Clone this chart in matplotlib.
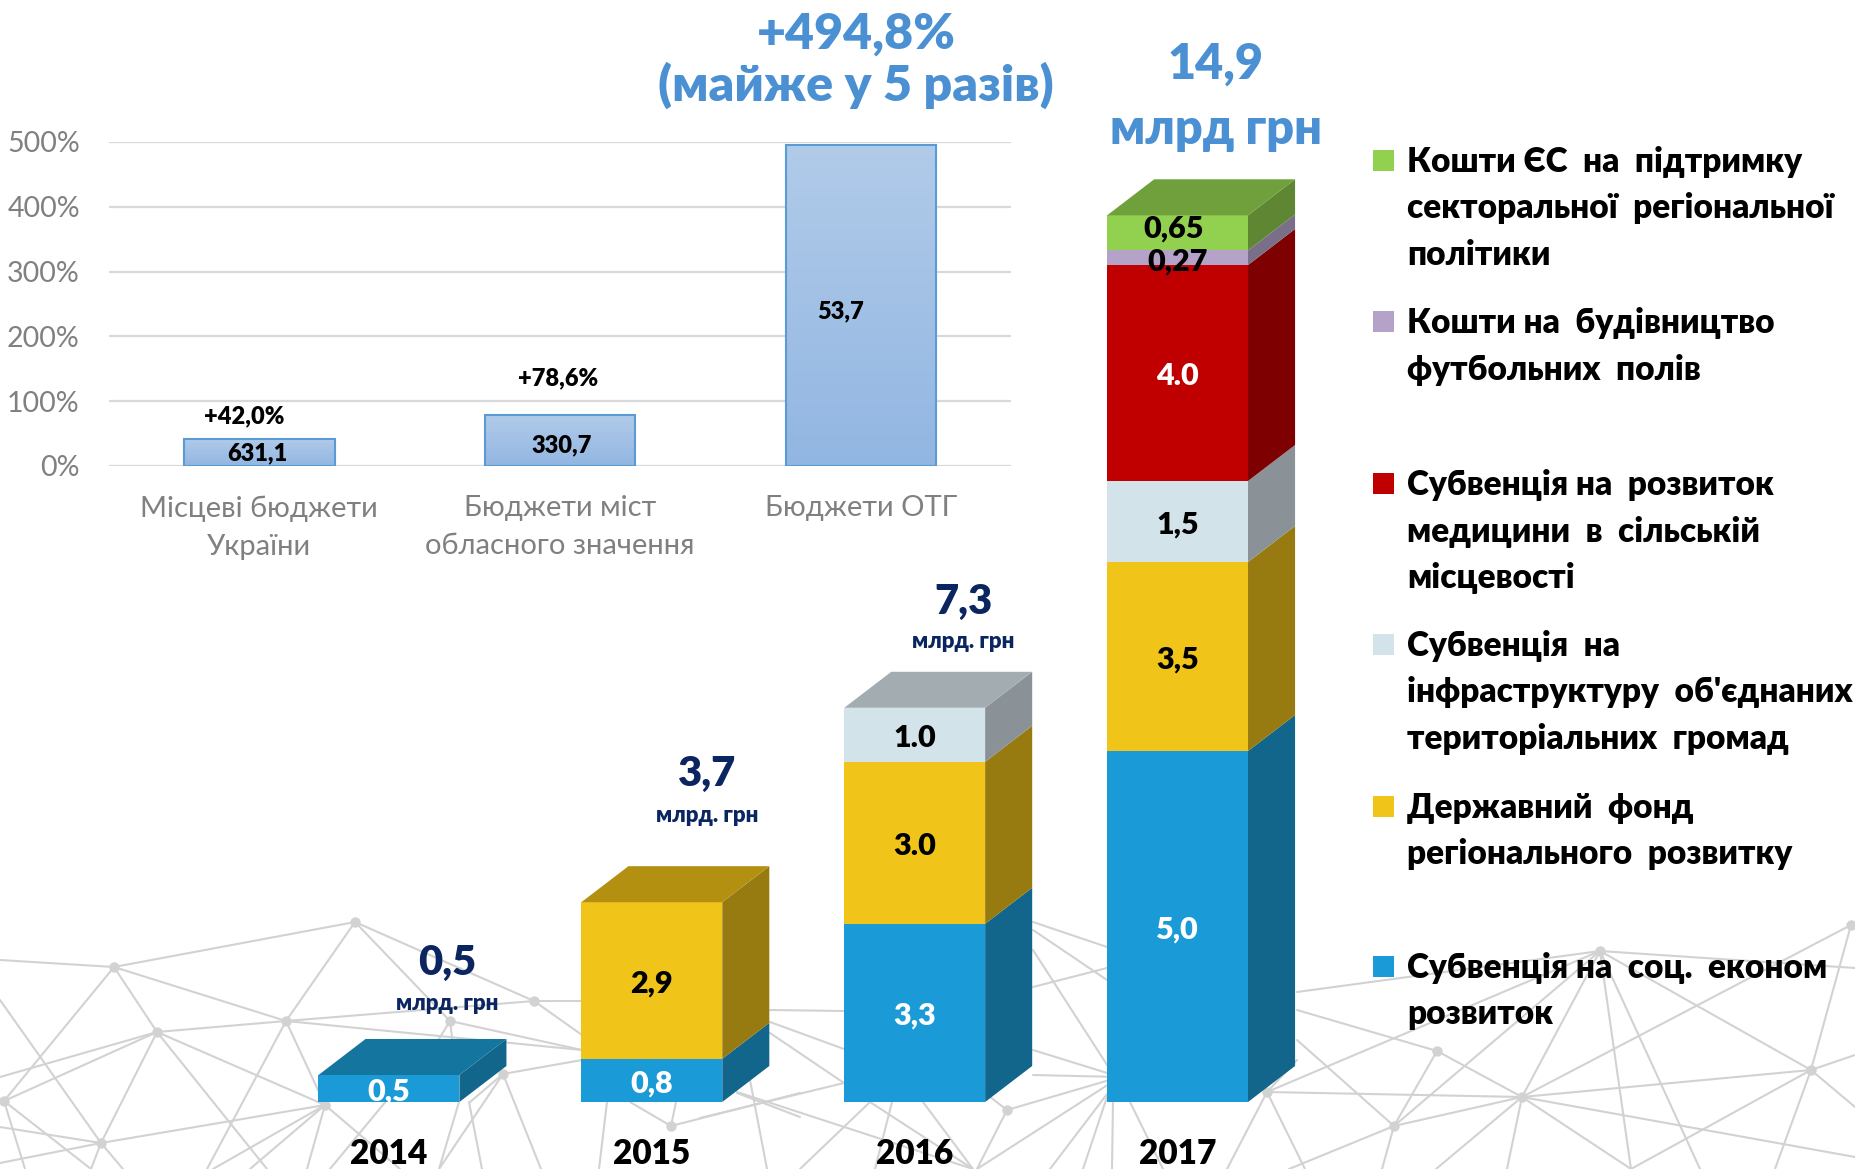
# Budget growth + regional funding stacked 3D-look bars
import matplotlib
matplotlib.use('Agg')
import matplotlib.pyplot as plt
from matplotlib.patches import Polygon, Rectangle
import numpy as np

plt.rcParams['font.family'] = ['Lato', 'Open Sans', 'DejaVu Sans']
plt.rcParams['font.weight'] = 'heavy'

W, H = 1855, 1169

# top chart
budget_names = ['Місцеві бюджети\nУкраїни', 'Бюджети міст\nобласного значення', 'Бюджети ОТГ']
budget_growth = [42.0, 78.6, 494.8]
growth_ticks = [0, 100, 200, 300, 400, 500]
growth_tick_labels = ['0%', '100%', '200%', '300%', '400%', '500%']

# stacked chart, the 2017 blue block is drawn taller than its 5,0 label
years = ['2014', '2015', '2016', '2017']
series_names = ['Субвенція на  соц.  економ\nрозвиток',
                'Державний  фонд\nрегіонального  розвитку',
                'Субвенція  на\nінфраструктуру  об\'єднаних\nтериторіальних  громад',
                'Субвенція на  розвиток\nмедицини  в  сільській\nмісцевості',
                'Кошти на  будівництво\nфутбольних  полів',
                'Кошти ЄС  на  підтримку\nсекторальної  регіональної\nполітики']
soc_econ = [0.5, 0.8, 3.3, 6.5]
state_fund = [0, 2.9, 3.0, 3.5]
infra = [0, 0, 1.0, 1.5]
medicine = [0, 0, 0, 4.0]
football = [0, 0, 0, 0.27]
eu_funds = [0, 0, 0, 0.65]
stack = [soc_econ, state_fund, infra, medicine, football, eu_funds]
stack_labels = [['0,5', '0,8', '3,3', '5,0'],
                ['', '2,9', '3.0', '3,5'],
                ['', '', '1.0', '1,5'],
                ['', '', '', '4.0'],
                ['', '', '', '0,27'],
                ['', '', '', '0,65']]

front = ['#1A9BD7', '#F0C419', '#D3E3EA', '#C00000', '#B4A2C8', '#92D050']
side = ['#12668B', '#987B10', '#8A9297', '#7F0000', '#7A6F88', '#5F8633']
topc = ['#14769F', '#B39010', '#A3ADB1', '#900000', '#857A95', '#70A03C']
label_col = ['white', 'black', 'black', 'white', 'black', 'black']

# background network, pixel positions of the decoration
nodes = [(355, 922), (114, 967), (157, 1032), (286, 1021), (450, 1021), (534, 1001),
         (503, 1074), (325, 1105), (101, 1143), (4, 1101), (671, 1126), (1007, 1110),
         (1600, 951), (1851, 925), (1437, 1051), (1522, 1097), (1811, 1070),
         (1394, 1126), (1267, 1092)]
edges = [((355, 922), (114, 967)), ((114, 967), (0, 960)), ((355, 922), (286, 1021)),
         ((355, 922), (450, 1021)), ((355, 922), (534, 1001)), ((286, 1021), (534, 1001)),
         ((114, 967), (157, 1032)), ((114, 967), (286, 1021)), ((114, 967), (4, 1101)),
         ((157, 1032), (286, 1021)), ((157, 1032), (4, 1101)),
         ((157, 1032), (0, 1077)), ((157, 1032), (325, 1105)), ((157, 1032), (101, 1143)),
         ((157, 1032), (267, 1169)), ((286, 1021), (325, 1105)), ((286, 1021), (207, 1169)),
         ((286, 1021), (582, 1050)), ((0, 1000), (101, 1143)), ((0, 1127), (101, 1143)),
         ((0, 1163), (101, 1143)), ((4, 1101), (91, 1169)), ((4, 1101), (25, 1169)),
         ((101, 1143), (325, 1105)), ((101, 1143), (123, 1169)), ((101, 1143), (91, 1169)),
         ((325, 1105), (213, 1169)), ((325, 1105), (250, 1169)), ((325, 1105), (307, 1169)),
         ((325, 1105), (400, 1169)), ((387, 1100), (330, 1169)), ((450, 1021), (420, 1070)),
         ((450, 1021), (455, 1060)), ((534, 1001), (582, 1001)), ((534, 1001), (582, 1035)),
         ((450, 1021), (582, 1050)), ((503, 1074), (582, 1060)), ((503, 1074), (439, 1169)),
         ((503, 1074), (541, 1169)), ((503, 1074), (470, 1102)), ((459, 1102), (439, 1169)),
         ((469, 1102), (482, 1169)), ((607, 1102), (599, 1169)), ((630, 1102), (671, 1126)),
         ((676, 1102), (671, 1126)), ((671, 1126), (800, 1093)), ((737, 1093), (800, 1117)),
         ((750, 1080), (767, 1169)), ((770, 1010), (844, 1011)), ((770, 1022), (844, 1049)),
         ((770, 1033), (844, 1083)), ((844, 1083), (700, 1118)), ((870, 1102), (800, 1169)),
         ((892, 1102), (875, 1169)), ((923, 1102), (973, 1169)), ((870, 1102), (973, 1169)),
         ((737, 1092), (973, 1169)), ((1007, 1110), (985, 1093)), ((1007, 1110), (1120, 1077)),
         ((1007, 1110), (977, 1169)), ((1120, 1077), (977, 1169)), ((1033, 1075), (1120, 1077)),
         ((1033, 1050), (1120, 1077)), ((1033, 950), (1120, 1085)), ((1033, 987), (1107, 968)),
         ((1033, 922), (1107, 947)), ((1033, 930), (1107, 980)), ((1107, 1097), (1083, 1169)),
         ((1113, 1102), (1112, 1169)), ((1130, 1102), (1163, 1169)), ((1120, 1077), (1050, 1169)),
         ((1297, 992), (1600, 951)), ((1600, 951), (1855, 968)), ((1851, 925), (1811, 1070)),
         ((1851, 925), (1522, 1097)), ((1600, 951), (1522, 1097)), ((1600, 951), (1394, 1126)),
         ((1600, 951), (1631, 1169)), ((1600, 951), (1811, 1070)), ((1600, 951), (1700, 1169)),
         ((1297, 1010), (1437, 1051)), ((1437, 1051), (1522, 1097)), ((1437, 1051), (1394, 1126)),
         ((1267, 1092), (1600, 951)), ((1297, 1040), (1394, 1126)), ((1267, 1092), (1522, 1097)),
         ((1522, 1097), (1811, 1070)), ((1522, 1097), (1394, 1126)), ((1522, 1097), (1631, 1169)),
         ((1811, 1070), (1855, 1055)), ((1811, 1070), (1631, 1169)), ((1522, 1097), (1855, 1157)),
         ((1394, 1126), (1382, 1169)), ((1394, 1126), (1289, 1169)), ((1522, 1097), (1436, 1169)),
         ((1522, 1097), (1507, 1169)), ((1267, 1092), (1227, 1169)), ((1267, 1092), (1305, 1169)),
         ((1811, 1070), (1775, 1169)), ((1811, 1070), (1855, 1107)), ((1267, 1092), (1297, 1060))]


def px_axes(x0, y0, x1, y1, **kw):
    return fig.add_axes([x0 / W, 1 - y1 / H, (x1 - x0) / W, (y1 - y0) / H], **kw)


fig = plt.figure(figsize=(W / 100, H / 100), dpi=100, facecolor='white')

# background
bg = px_axes(0, 0, W, H, zorder=0)
bg.set_xlim(0, W)
bg.set_ylim(H, 0)
bg.axis('off')
for a, b in edges:
    bg.plot([a[0], b[0]], [a[1], b[1]], color='#D2D2D2', lw=1.5, solid_capstyle='round')
bg.plot(*zip(*nodes), ls='none', marker='o', ms=7.5, color='#D2D2D2', mew=0)

# growth bars
ax1 = px_axes(109, 142, 1011, 466, zorder=1)
ax1.patch.set_alpha(0)
pos = np.arange(len(budget_growth))
ax1.set_xlim(-0.5, 2.5)
ax1.set_ylim(0, 500)
ax1.yaxis.grid(True, color='#D9D9D9', lw=1.6, zorder=0)
ax1.set_axisbelow(True)
bars = ax1.bar(pos, budget_growth, width=0.5, facecolor='none', edgecolor='#5B9BD5', lw=1.5, zorder=3)
grad = np.linspace(0, 1, 256).reshape(-1, 1)
shade = matplotlib.colors.LinearSegmentedColormap.from_list('bar', ['#B1CBE9', '#92B6E2'])
for b in bars:
    x, wd, ht = b.get_x(), b.get_width(), b.get_height()
    im = ax1.imshow(grad, extent=(x, x + wd, 0, ht), aspect='auto', cmap=shade, origin='upper', zorder=2)
    im.set_clip_path(Rectangle((x, 0), wd, ht, transform=ax1.transData))
ax1.set_xlim(-0.5, 2.5)
ax1.set_ylim(0, 500)
for s in ax1.spines.values():
    s.set_visible(False)
ax1.set_yticks(growth_ticks, growth_tick_labels, fontsize=20.5, color='#808080', fontweight='normal')
ax1.set_xticks(pos, budget_names, fontsize=21, color='#808080', fontweight='normal', linespacing=1.58)
ax1.tick_params(axis='y', length=0, pad=21)
ax1.tick_params(axis='x', length=0, pad=21)

# stacked bars with fake depth
ax2 = px_axes(257.5, 100, 1309, 1102, zorder=2)
ax2.patch.set_alpha(0)
ax2.set_xlim(-0.5, 3.5)
ax2.set_ylim(0, (1102 - 100) / 54)
xpos = np.arange(len(years))
bar_w = 0.536
dx, dy = 0.179, 0.667
bottom = np.zeros(len(years))
tops = np.zeros(len(years), dtype=int)
nudge = {'0,65': (-3, 3), '0,27': (0, -3)}
for i, vals in enumerate(stack):
    vals = np.array(vals, dtype=float)
    ax2.bar(xpos, vals, bar_w, bottom=bottom, color=front[i], lw=0, zorder=3)
    for j, v in enumerate(vals):
        if v == 0:
            continue
        r = xpos[j] + bar_w / 2
        b0 = bottom[j]
        ax2.add_patch(Polygon([(r, b0), (r + dx, b0 + dy), (r + dx, b0 + v + dy), (r, b0 + v)],
                              color=side[i], lw=0, zorder=3))
        tops[j] = i
        lab = stack_labels[i][j]
        ax2.annotate(lab, (xpos[j], b0 + v / 2), xytext=nudge.get(lab, (0, -2)),
                     textcoords='offset points', ha='center', va='center',
                     fontsize=22, color=label_col[i], zorder=5)
    bottom += vals
for j, t in enumerate(bottom):
    l, r = xpos[j] - bar_w / 2, xpos[j] + bar_w / 2
    ax2.add_patch(Polygon([(l, t), (r, t), (r + dx, t + dy), (l + dx, t + dy)],
                          color=topc[tops[j]], lw=0, zorder=3))
for s in ax2.spines.values():
    s.set_visible(False)
ax2.set_yticks([])
ax2.set_xticks(xpos, years, fontsize=24, color='black')
ax2.tick_params(axis='x', length=0, pad=26)

# text over everything
over = px_axes(0, 0, W, H, zorder=5)
over.set_xlim(0, W)
over.set_ylim(H, 0)
over.axis('off')


def txt(x, y, s, size, color='black', ha='center', **kw):
    over.text(x, y, s, fontsize=size, color=color, ha=ha, va='center', **kw)


txt(244, 416, '+42,0%', 17)
txt(558, 378, '+78,6%', 17)
txt(257, 453, '631,1', 17)
txt(562, 445, '330,7', 17)
txt(841, 311, '53,7', 17)

blue = '#4A90D2'
txt(856, 34, '+494,8%', 36, blue)
txt(856, 85, '(майже у 5 разів)', 36, blue)
txt(1216, 64, '14,9', 35, blue)
txt(1216, 130, 'млрд грн', 35, blue)

navy = '#0B2560'
txt(447, 963, '0,5', 30, navy)
txt(447, 1003, 'млрд. грн', 16, navy)
txt(707, 774, '3,7', 30, navy)
txt(707, 815, 'млрд. грн', 16, navy)
txt(963, 602, '7,3', 30, navy)
txt(963, 642, 'млрд. грн', 16, navy)

# legend, one swatch per series
leg_y = [968, 808, 646, 485, 323, 162]
swatch_y = [966, 806, 644, 483, 321, 160]
for i, name in enumerate(series_names):
    over.add_patch(Rectangle((1373, swatch_y[i] - 10), 21, 21, color=front[i], lw=0))
    for k, line in enumerate(name.split('\n')):
        txt(1407, leg_y[i] + 46.5 * k, line, 24, ha='left')

fig.savefig('out.png', dpi=100)
